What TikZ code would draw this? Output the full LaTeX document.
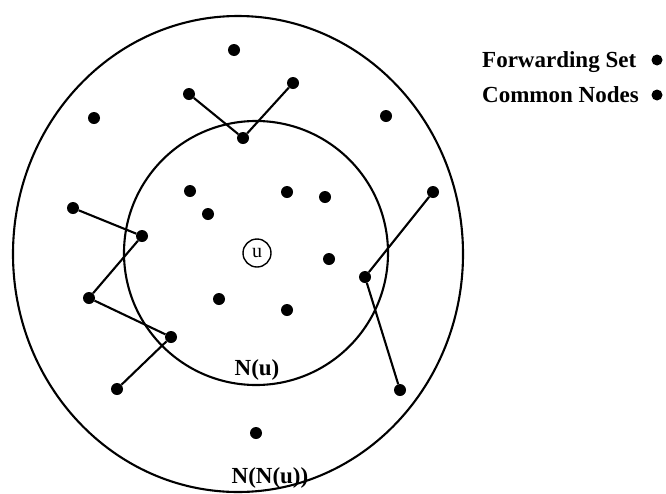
\documentclass[tikz,border=0pt]{standalone}
\usepackage{fontspec}
\setmainfont{Liberation Serif}
\begin{document}
\begin{tikzpicture}[x=1pt,y=-1pt,
  dot/.style={circle,fill=black,inner sep=0pt,minimum size=12pt},
  link/.style={line width=2.1pt},
  ring/.style={line width=2.1pt},
  lbl/.style={font=\fontsize{23}{26}\selectfont\bfseries,inner sep=0pt}]
\useasboundingbox (0,0) rectangle (666,493);
% regions
\draw[ring] (238,254) ellipse [x radius=225, y radius=238];
\draw[ring] (256,253) circle [radius=132];
\node[draw,circle,line width=1.4pt,minimum size=28pt,inner sep=0pt,font=\fontsize{20}{22}\selectfont] (u) at (257,253) {u};
% dots
\node[dot] (a1) at (234,50) {};
\node[dot] (a2) at (293,83) {};
\node[dot] (a3) at (189,94) {};
\node[dot] (a4) at (94,118) {};
\node[dot] (a5) at (386,116) {};
\node[dot] (a6) at (243,138) {};
\node[dot] (a7) at (190,191) {};
\node[dot] (a8) at (287,192) {};
\node[dot] (a9) at (325,197) {};
\node[dot] (a10) at (208,214) {};
\node[dot] (a11) at (433,192) {};
\node[dot] (a12) at (73,208) {};
\node[dot] (a13) at (142,236) {};
\node[dot] (a14) at (329,259) {};
\node[dot] (a15) at (365,277) {};
\node[dot] (a16) at (89,298) {};
\node[dot] (a17) at (219,299) {};
\node[dot] (a18) at (287,310) {};
\node[dot] (a19) at (171,337) {};
\node[dot] (a20) at (117,389) {};
\node[dot] (a21) at (400,390) {};
\node[dot] (a22) at (256,433) {};
% links
\draw[link] (a3) -- (a6) -- (a2);
\draw[link] (a12) -- (a13) -- (a16) -- (a19) -- (a20);
\draw[link] (a11) -- (a15) -- (a21);
% labels
\node[lbl,anchor=base] (nu) at (257,375) {N(u)};
\node[lbl,anchor=base] (nnu) at (270,483) {N(N(u))};
% legend
\node[lbl,anchor=base west] (fs) at (482,67) {Forwarding Set};
\node[lbl,anchor=base west] (cn) at (482,102) {Common Nodes};
\node[dot,minimum size=11pt] (fsd) at (657,60) {};
\node[dot,minimum size=11pt] (cnd) at (657,95) {};
\end{tikzpicture}
\end{document}
